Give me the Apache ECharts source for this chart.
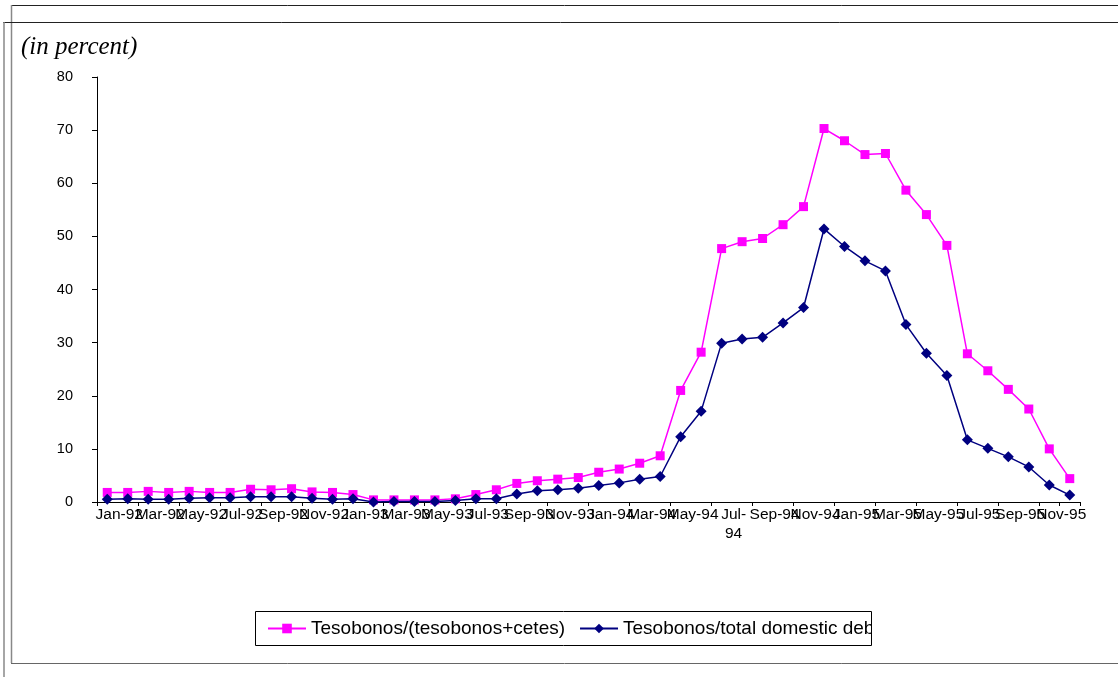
<!DOCTYPE html>
<html>
<head>
<meta charset="utf-8">
<script src="https://cdn.jsdelivr.net/npm/echarts@6/dist/echarts.min.js"></script>
<style>
html,body{margin:0;padding:0;background:#fff;}
#chart{width:1118px;height:677px;}
</style>
</head>
<body>
<div id="chart"></div>
<script>
// Monthly categories Jan-92 .. Dec-95 (labels shown every other month)
const months = ['Jan','Feb','Mar','Apr','May','Jun','Jul','Aug','Sep','Oct','Nov','Dec'];
const years = ['92','93','94','95'];
const categories = [];
years.forEach(y => months.forEach(m => categories.push(m + '-' + y)));

const seriesNames = ['Tesobonos/(tesobonos+cetes)', 'Tesobonos/total domestic debt'];

const tesobonosShareOfCetes = [
  1.8,1.8,2.0,1.8,2.0,1.8,1.8,2.4,2.3,2.5,1.9,1.8,
  1.4,0.4,0.4,0.4,0.4,0.6,1.4,2.3,3.5,4.0,4.3,4.6,
  5.6,6.2,7.3,8.7,21.0,28.2,47.7,49.0,49.6,52.2,55.6,70.3,
  68.0,65.4,65.6,58.7,54.1,48.3,27.9,24.7,21.2,17.5,10.0,4.4
];
const tesobonosShareOfDebt = [
  0.5,0.6,0.5,0.5,0.7,0.8,0.8,1.0,1.0,1.0,0.7,0.5,
  0.6,0.0,0.1,0.1,0.1,0.3,0.6,0.6,1.5,2.1,2.3,2.6,
  3.1,3.6,4.3,4.8,12.3,17.1,29.9,30.7,31.0,33.7,36.6,51.4,
  48.1,45.4,43.5,33.4,28.0,23.8,11.7,10.1,8.5,6.6,3.2,1.3
];

const yMin = 0, yMax = 80, yStep = 10;
const titleText = '(in percent)';

const chart = echarts.init(document.getElementById('chart'), null, {renderer: 'canvas'});
const ff = '"Liberation Sans", Arial, sans-serif';

chart.setOption({
  animation: false,
  backgroundColor: '#ffffff',
  title: {
    text: titleText,
    left: 21, top: 35,
    padding: 0,
    textStyle: {fontFamily: '"Liberation Serif", "Times New Roman", serif', fontStyle: 'italic', fontWeight: 'normal', fontSize: 25, color: '#000'}
  },
  graphic: [
    {type: 'line', shape: {x1: 11, y1: 5.5, x2: 1118, y2: 5.5}, style: {stroke: '#222', lineWidth: 1}, silent: true},
    {type: 'line', shape: {x1: 11.5, y1: 5, x2: 11.5, y2: 663}, style: {stroke: '#888', lineWidth: 1.5}, silent: true},
    {type: 'line', shape: {x1: 11, y1: 663.5, x2: 1118, y2: 663.5}, style: {stroke: '#666', lineWidth: 1}, silent: true},
    {type: 'line', shape: {x1: 3, y1: 22.5, x2: 1118, y2: 22.5}, style: {stroke: '#222', lineWidth: 1}, silent: true},
    {type: 'line', shape: {x1: 4, y1: 22, x2: 4, y2: 677}, style: {stroke: '#888', lineWidth: 1.5}, silent: true},
    {type: 'rect', shape: {x: 872, y: 612, width: 40, height: 33}, style: {fill: '#fff'}, silent: true, z: 100},
    {type: 'rect', shape: {x: 255.5, y: 611.5, width: 616, height: 34}, style: {stroke: '#000', fill: 'none', lineWidth: 1}, silent: true, z: 101}
  ],
  legend: {
    left: 267, top: 619,
    padding: 0,
    itemWidth: 38, itemHeight: 12, itemGap: 14,
    textStyle: {fontFamily: ff, fontSize: 19, color: '#000'},
    data: seriesNames
  },
  grid: {left: 97, right: 38, top: 77, bottom: 175, containLabel: false, outerBoundsMode: 'none'},
  xAxis: {
    type: 'category',
    data: categories,
    boundaryGap: true,
    axisLine: {lineStyle: {color: '#000', width: 1}},
    axisTick: {show: true, interval: 1, length: 4, inside: false, lineStyle: {color: '#000'}},
    axisLabel: {
      interval: 0, margin: 3, color: '#000', fontFamily: ff, fontSize: 15.5, lineHeight: 19,
      hideOverlap: false,
      padding: [0, 0, 0, 24],
      formatter: (v, i) => (i % 2 === 1) ? '' : (v === 'Jul-94' ? 'Jul-\n94' : v)
    },
    splitLine: {show: false}
  },
  yAxis: {
    type: 'value',
    min: yMin, max: yMax, interval: yStep,
    axisLine: {show: true, lineStyle: {color: '#000', width: 1}},
    axisTick: {show: true, length: 5, inside: false, lineStyle: {color: '#000'}},
    axisLabel: {margin: 24, color: '#000', fontFamily: ff, fontSize: 14.5},
    splitLine: {show: false}
  },
  series: [
    {
      name: seriesNames[0], type: 'line', data: tesobonosShareOfCetes,
      symbol: 'rect', symbolSize: 9, showAllSymbol: true,
      itemStyle: {color: '#FF00FF'}, lineStyle: {color: '#FF00FF', width: 1.5}
    },
    {
      name: seriesNames[1], type: 'line', data: tesobonosShareOfDebt,
      symbol: 'diamond', symbolSize: 11, showAllSymbol: true,
      itemStyle: {color: '#000080'}, lineStyle: {color: '#000080', width: 1.5}
    }
  ]
});
</script>
</body>
</html>
